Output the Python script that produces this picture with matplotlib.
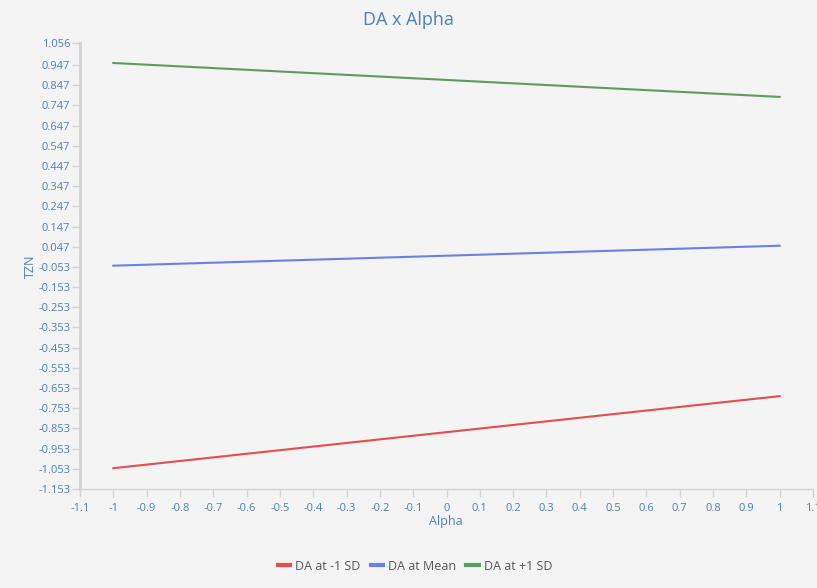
import matplotlib
matplotlib.use("Agg")
import matplotlib.pyplot as plt
import numpy as np

x_vals = [-1, 1]
series_names = ["DA at -1 SD", "DA at Mean", "DA at +1 SD"]
low_sd = [-1.050, -0.693]
mean_vals = [-0.047, 0.052]
high_sd = [0.957, 0.789]
colors = ["#e84c4c", "#6a80e6", "#5f9a5f"]

x_ticks = [-1.1, -1, -0.9, -0.8, -0.7, -0.6, -0.5, -0.4, -0.3, -0.2, -0.1, 0,
           0.1, 0.2, 0.3, 0.4, 0.5, 0.6, 0.7, 0.8, 0.9, 1, 1.1]
x_tick_labels = ["-1.1", "-1", "-0.9", "-0.8", "-0.7", "-0.6", "-0.5", "-0.4", "-0.3",
                 "-0.2", "-0.1", "0", "0.1", "0.2", "0.3", "0.4", "0.5", "0.6", "0.7",
                 "0.8", "0.9", "1", "1.1"]
y_ticks = [1.056, 0.947, 0.847, 0.747, 0.647, 0.547, 0.447, 0.347, 0.247, 0.147, 0.047,
           -0.053, -0.153, -0.253, -0.353, -0.453, -0.553, -0.653, -0.753, -0.853,
           -0.953, -1.053, -1.153]
y_tick_labels = ["1.056", "0.947", "0.847", "0.747", "0.647", "0.547", "0.447", "0.347",
                 "0.247", "0.147", "0.047", "-0.053", "-0.153", "-0.253", "-0.353",
                 "-0.453", "-0.553", "-0.653", "-0.753", "-0.853", "-0.953", "-1.053",
                 "-1.153"]

plt.rcParams['font.family'] = ['Open Sans', 'DejaVu Sans']
bg = "#f4f4f4"
text_col = "#4a80b8"
axis_col = "#d3d3d3"

fig = plt.figure(figsize=(8.17, 5.88), dpi=100, facecolor=bg)
ax = fig.add_axes([80/817, (588-489)/588, (813-80)/817, (489-43)/588])
ax.set_facecolor(bg)

for vals, name, c in zip([low_sd, mean_vals, high_sd], series_names, colors):
    ax.plot(x_vals, vals, color=c, lw=1.5, label=name)

ax.set_xlim(-1.1, 1.1)
ax.set_ylim(-1.153, 1.056)
ax.set_xticks(x_ticks)
ax.set_xticklabels(x_tick_labels)
ax.set_yticks(y_ticks)
ax.set_yticklabels(y_tick_labels)

for s in ["top", "right"]:
    ax.spines[s].set_visible(False)
for s in ["left", "bottom"]:
    ax.spines[s].set_color(axis_col)
ax.spines["left"].set_linewidth(2)
ax.spines["bottom"].set_linewidth(1)
ax.tick_params(axis='both', colors=axis_col, labelcolor=text_col, labelsize=8,
               length=6, width=1)
ax.tick_params(axis='x', pad=4)
ax.tick_params(axis='y', pad=1)

fig.text(0.5, 1 - 20/588, "DA x Alpha", ha='center', va='center', color=text_col, fontsize=13)
fig.text(446/817, 1 - 522/588, "Alpha", ha='center', va='center', color=text_col, fontsize=9)
fig.text(30/817, 1 - 266/588, "TZN", ha='center', va='center', color=text_col, fontsize=9,
         rotation=90)

leg = fig.legend(loc='center', bbox_to_anchor=(415/817, 1 - 566/588), ncol=3, frameon=False,
                 fontsize=9, handlelength=1.0, handletextpad=0.4, columnspacing=0.8)
for line in leg.get_lines():
    line.set_linewidth(3)
for t in leg.get_texts():
    t.set_color("#555555")

fig.savefig("out.png", dpi=100, facecolor=bg)
